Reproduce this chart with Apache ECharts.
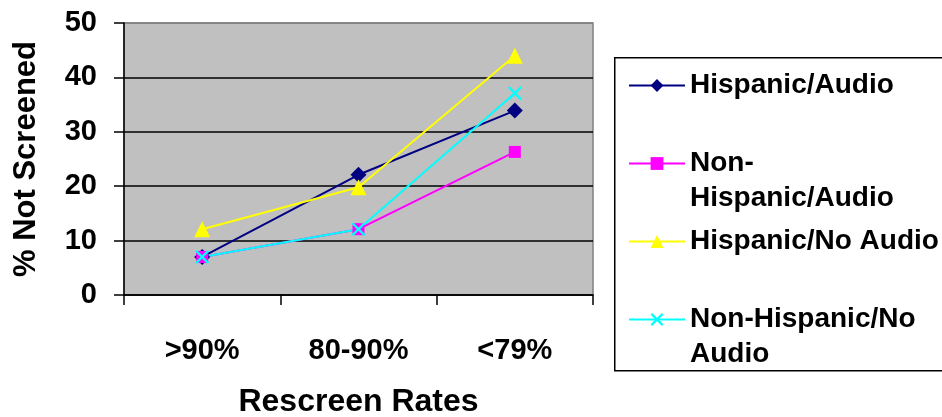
<!DOCTYPE html>
<html>
<head>
<meta charset="utf-8">
<script src="https://cdn.jsdelivr.net/npm/echarts@6/dist/echarts.min.js"></script>
<style>html,body{margin:0;padding:0;background:#fff;}#c{width:942px;height:417px;}</style>
</head>
<body>
<div id="c"></div>
<script>
var categories = ['>90%', '80-90%', '<79%'];
var seriesNames = ['Hispanic/Audio', 'Non-Hispanic/Audio', 'Hispanic/No Audio', 'Non-Hispanic/No Audio'];
var hispanicAudio = [7.0, 22.1, 33.9];
var nonHispanicAudio = [7.0, 12.1, 26.3];
var hispanicNoAudio = [12.1, 19.8, 44.0];
var nonHispanicNoAudio = [7.0, 12.1, 37.1];
var yTicks = { min: 0, max: 50, interval: 10 };
var legendLabels = {
  'Hispanic/Audio': 'Hispanic/Audio',
  'Non-Hispanic/Audio': '\nNon-\nHispanic/Audio',
  'Hispanic/No Audio': 'Hispanic/No Audio',
  'Non-Hispanic/No Audio': '\nNon-Hispanic/No\nAudio'
};

var FONT = '"Liberation Sans", Arial, sans-serif';
var xPath = 'path://M0,1.2 L1.2,0 L10,8.8 L8.8,10 Z M8.8,0 L10,1.2 L1.2,10 L0,8.8 Z';

var chart = echarts.init(document.getElementById('c'), null, { renderer: 'canvas' });
chart.setOption({
  animation: false,
  backgroundColor: '#ffffff',
  grid: {
    left: 124, top: 23, right: 349, bottom: 122,
    outerBoundsMode: 'none', containLabel: false,
    show: true, backgroundColor: '#c0c0c0', borderColor: '#808080', borderWidth: 1.5
  },
  graphic: [{
    type: 'rect', left: 614, top: 57, z: 0,
    shape: { width: 340, height: 313 },
    style: { fill: '#ffffff', stroke: '#000000', lineWidth: 1.5 }
  }],
  legend: {
    orient: 'vertical', left: 623, top: 63, z: 5,
    itemWidth: 56, itemHeight: 16, itemGap: 8,
    data: seriesNames,
    formatter: function (n) { return legendLabels[n]; },
    textStyle: { fontFamily: FONT, fontWeight: 'bold', fontSize: 28, color: '#000', lineHeight: 35 },
    selectedMode: false
  },
  xAxis: {
    type: 'category', data: categories, boundaryGap: true,
    name: 'Rescreen Rates', nameLocation: 'middle', nameGap: 91,
    nameTextStyle: { fontFamily: FONT, fontWeight: 'bold', fontSize: 32, color: '#000' },
    axisLine: { lineStyle: { color: '#000', width: 1.5 } },
    axisTick: { show: true, length: 10, lineStyle: { color: '#000', width: 1.5 } },
    axisLabel: { margin: 41, fontFamily: FONT, fontWeight: 'bold', fontSize: 29, color: '#000' },
    splitLine: { show: false }
  },
  yAxis: {
    type: 'value', min: yTicks.min, max: yTicks.max, interval: yTicks.interval,
    name: '% Not Screened', nameLocation: 'middle', nameGap: 82, nameRotate: 90,
    nameTextStyle: { fontFamily: FONT, fontWeight: 'bold', fontSize: 31, color: '#000' },
    axisLine: { show: true, lineStyle: { color: '#000', width: 1.5 } },
    axisTick: { show: true, length: 10, lineStyle: { color: '#000', width: 1.5 } },
    axisLabel: { margin: 27, fontFamily: FONT, fontWeight: 'bold', fontSize: 29, color: '#000' },
    splitLine: { show: true, lineStyle: { color: ['#000000', '#000000', '#000000', '#000000', '#000000', '#808080'], width: 1.5 } }
  },
  series: [
    { name: seriesNames[0], type: 'line', data: hispanicAudio, symbol: 'diamond', symbolSize: 16,
      lineStyle: { color: '#000080', width: 2 }, itemStyle: { color: '#000080' } },
    { name: seriesNames[1], type: 'line', data: nonHispanicAudio, symbol: 'rect', symbolSize: 12,
      lineStyle: { color: '#ff00ff', width: 2 }, itemStyle: { color: '#ff00ff' } },
    { name: seriesNames[2], type: 'line', data: hispanicNoAudio, symbol: 'triangle', symbolSize: 16,
      lineStyle: { color: '#ffff00', width: 2 }, itemStyle: { color: '#ffff00' } },
    { name: seriesNames[3], type: 'line', data: nonHispanicNoAudio, symbol: xPath, symbolSize: 14,
      lineStyle: { color: '#00ffff', width: 2 }, itemStyle: { color: '#00ffff' } }
  ]
});
</script>
</body>
</html>
